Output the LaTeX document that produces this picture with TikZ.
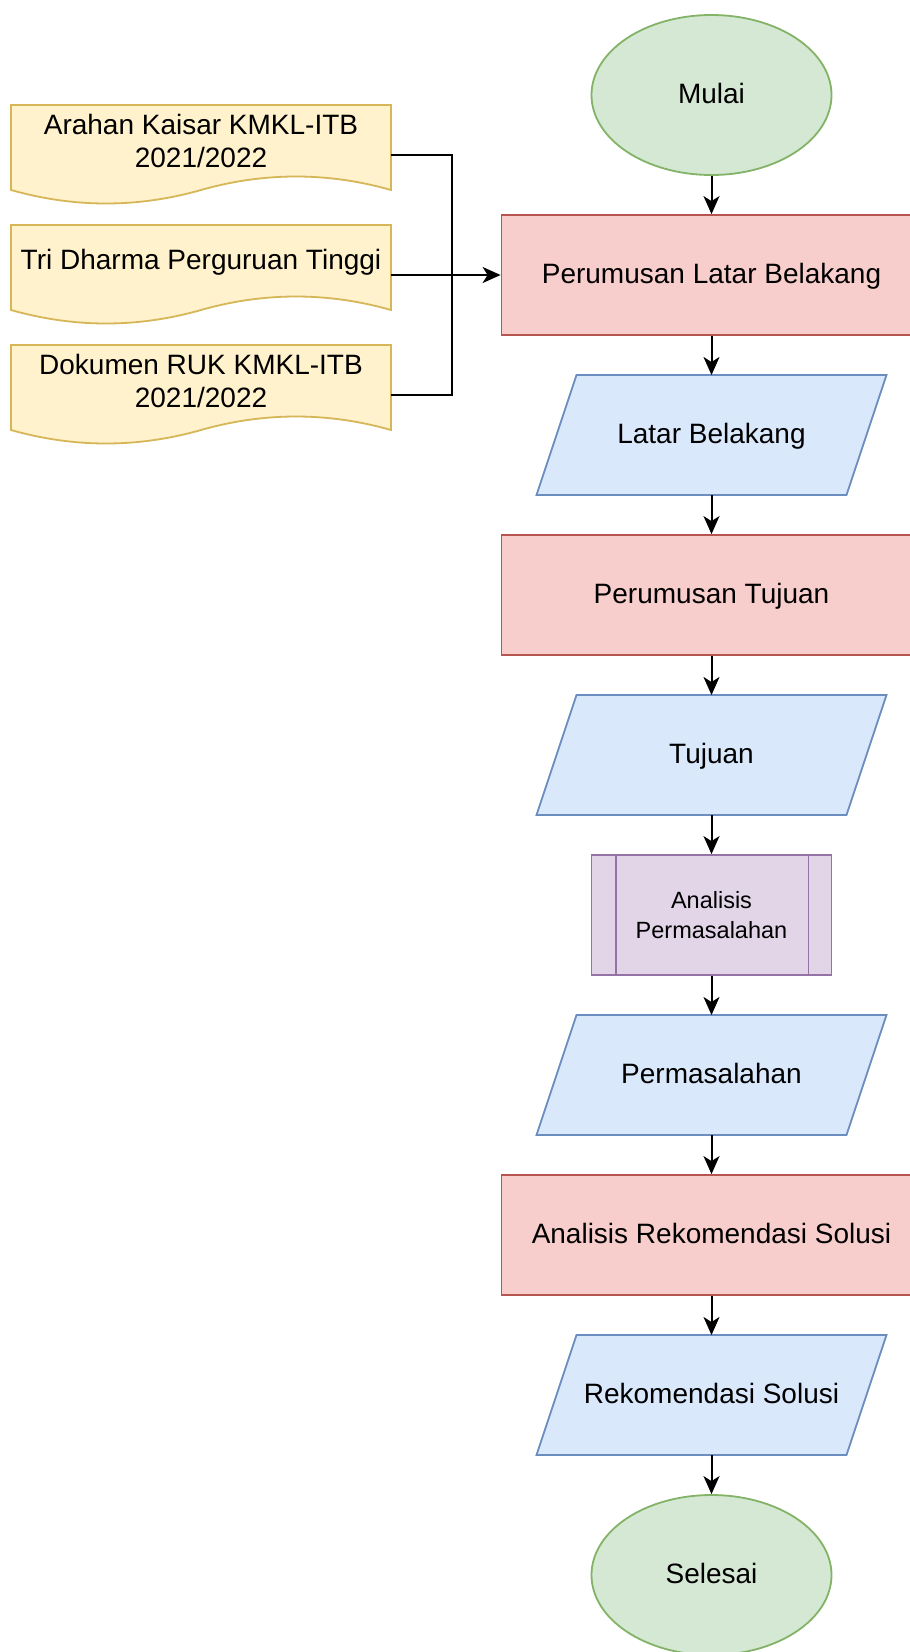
\documentclass[tikz,border=0pt]{standalone}
\usepackage{fontspec}
\setmainfont{Liberation Sans}
\usetikzlibrary{shapes.geometric,arrows.meta,calc,backgrounds}
\definecolor{gfill}{HTML}{D5E8D4}
\definecolor{gline}{HTML}{82B366}
\definecolor{rfill}{HTML}{F8CECC}
\definecolor{rline}{HTML}{B85450}
\definecolor{bfill}{HTML}{DAE8FC}
\definecolor{bline}{HTML}{6C8EBF}
\definecolor{pfill}{HTML}{E1D5E7}
\definecolor{pline}{HTML}{9673A6}
\definecolor{yfill}{HTML}{FFF2CC}
\definecolor{yline}{HTML}{D6B656}
\newcommand{\docpath}[1]{\path[docbg] (#1.north west) -- (#1.north east) -- ($(#1.north east)+(0,85)$) .. controls ($(#1.north west)+(316.67,67)$) and ($(#1.north west)+(253.33,67)$) .. ($(#1.north west)+(190,85)$) .. controls ($(#1.north west)+(126.67,103)$) and ($(#1.north west)+(63.33,103)$) .. ($(#1.north west)+(0,85)$) -- cycle;}
\newcommand{\parapath}[1]{\path[iobg] ($(#1.north west)+(40,0)$) -- (#1.north east) -- ($(#1.south east)+(-40,0)$) -- (#1.south west) -- cycle;}
\begin{document}
\begin{tikzpicture}[x=1pt,y=-1pt,
 every node/.style={font=\fontsize{28}{33.5}\selectfont, text=black, inner sep=0pt},
 oneline/.style={text height=21pt, text depth=5pt},
 term/.style={oneline, ellipse, draw=gline, fill=gfill, line width=1.8pt, minimum width=240pt, minimum height=160pt},
 proc/.style={oneline, rectangle, draw=rline, fill=rfill, line width=1.8pt, minimum width=420pt, minimum height=120pt},
 io/.style={oneline, rectangle, outer sep=0pt, minimum width=350pt, minimum height=120pt},
 iobg/.style={draw=bline, fill=bfill, line width=1.8pt, line join=miter},
 subproc/.style={rectangle, draw=pline, fill=pfill, line width=1.8pt, minimum width=240pt, minimum height=120pt, align=center, font=\fontsize{23.5}{29.5}\selectfont},
 doc/.style={rectangle, outer sep=0pt, minimum width=380pt, minimum height=100pt},
 docbg/.style={draw=yline, fill=yfill, line width=1.8pt},
 arr/.style={line width=2pt, -{Stealth[length=18pt,width=16pt,inset=5pt]}},
 ln/.style={line width=2pt}]
\useasboundingbox (0,0) rectangle (910,1652);
\clip (0,0) rectangle (910,1652);

% documents (left)
\node[doc, label={[align=center, yshift=14pt]center:{Arahan Kaisar KMKL-ITB\\2021/2022}}] (doc1) at (201,155) {};
\node[doc, label={[oneline, yshift=14pt]center:{Tri Dharma Perguruan Tinggi}}] (doc2) at (201,275) {};
\node[doc, label={[align=center, yshift=14pt]center:{Dokumen RUK KMKL-ITB\\2021/2022}}] (doc3) at (201,395) {};

% main column
\node[term] (start) at (711.5,95) {Mulai};
\node[proc] (r1) at (711.5,275) {Perumusan Latar Belakang};
\node[io] (p1) at (711.5,435) {Latar Belakang};
\node[proc] (r2) at (711.5,595) {Perumusan Tujuan};
\node[io] (p2) at (711.5,755) {Tujuan};
\node[subproc] (a) at (711.5,915) {Analisis\\Permasalahan};
\node[io] (p3) at (711.5,1075) {Permasalahan};
\node[proc] (r3) at (711.5,1235) {Analisis Rekomendasi Solusi};
\node[io] (p4) at (711.5,1395) {Rekomendasi Solusi};
\node[term] (stop) at (711.5,1575) {Selesai};

\draw[draw=pline, line width=1.8pt] ($(a.north west)+(25,0)$) -- ($(a.south west)+(25,0)$);
\draw[draw=pline, line width=1.8pt] ($(a.north east)+(-24,0)$) -- ($(a.south east)+(-24,0)$);

\begin{pgfonlayer}{background}
\fill[white] (0,0) rectangle (910,1652);
\docpath{doc1}
\docpath{doc2}
\docpath{doc3}
\parapath{p1}
\parapath{p2}
\parapath{p3}
\parapath{p4}
\end{pgfonlayer}

% connectors
\coordinate (jn) at (452,275);
\draw[ln] (doc1.east) -| (jn);
\draw[ln] (doc3.east) -| (jn);
\draw[arr] (doc2.east) -- (r1.west);
\draw[arr] (start) -- (r1);
\draw[arr] (r1) -- (p1);
\draw[arr] (p1) -- (r2);
\draw[arr] (r2) -- (p2);
\draw[arr] (p2) -- (a);
\draw[arr] (a) -- (p3);
\draw[arr] (p3) -- (r3);
\draw[arr] (r3) -- (p4);
\draw[arr] (p4) -- (stop);
\end{tikzpicture}
\end{document}
